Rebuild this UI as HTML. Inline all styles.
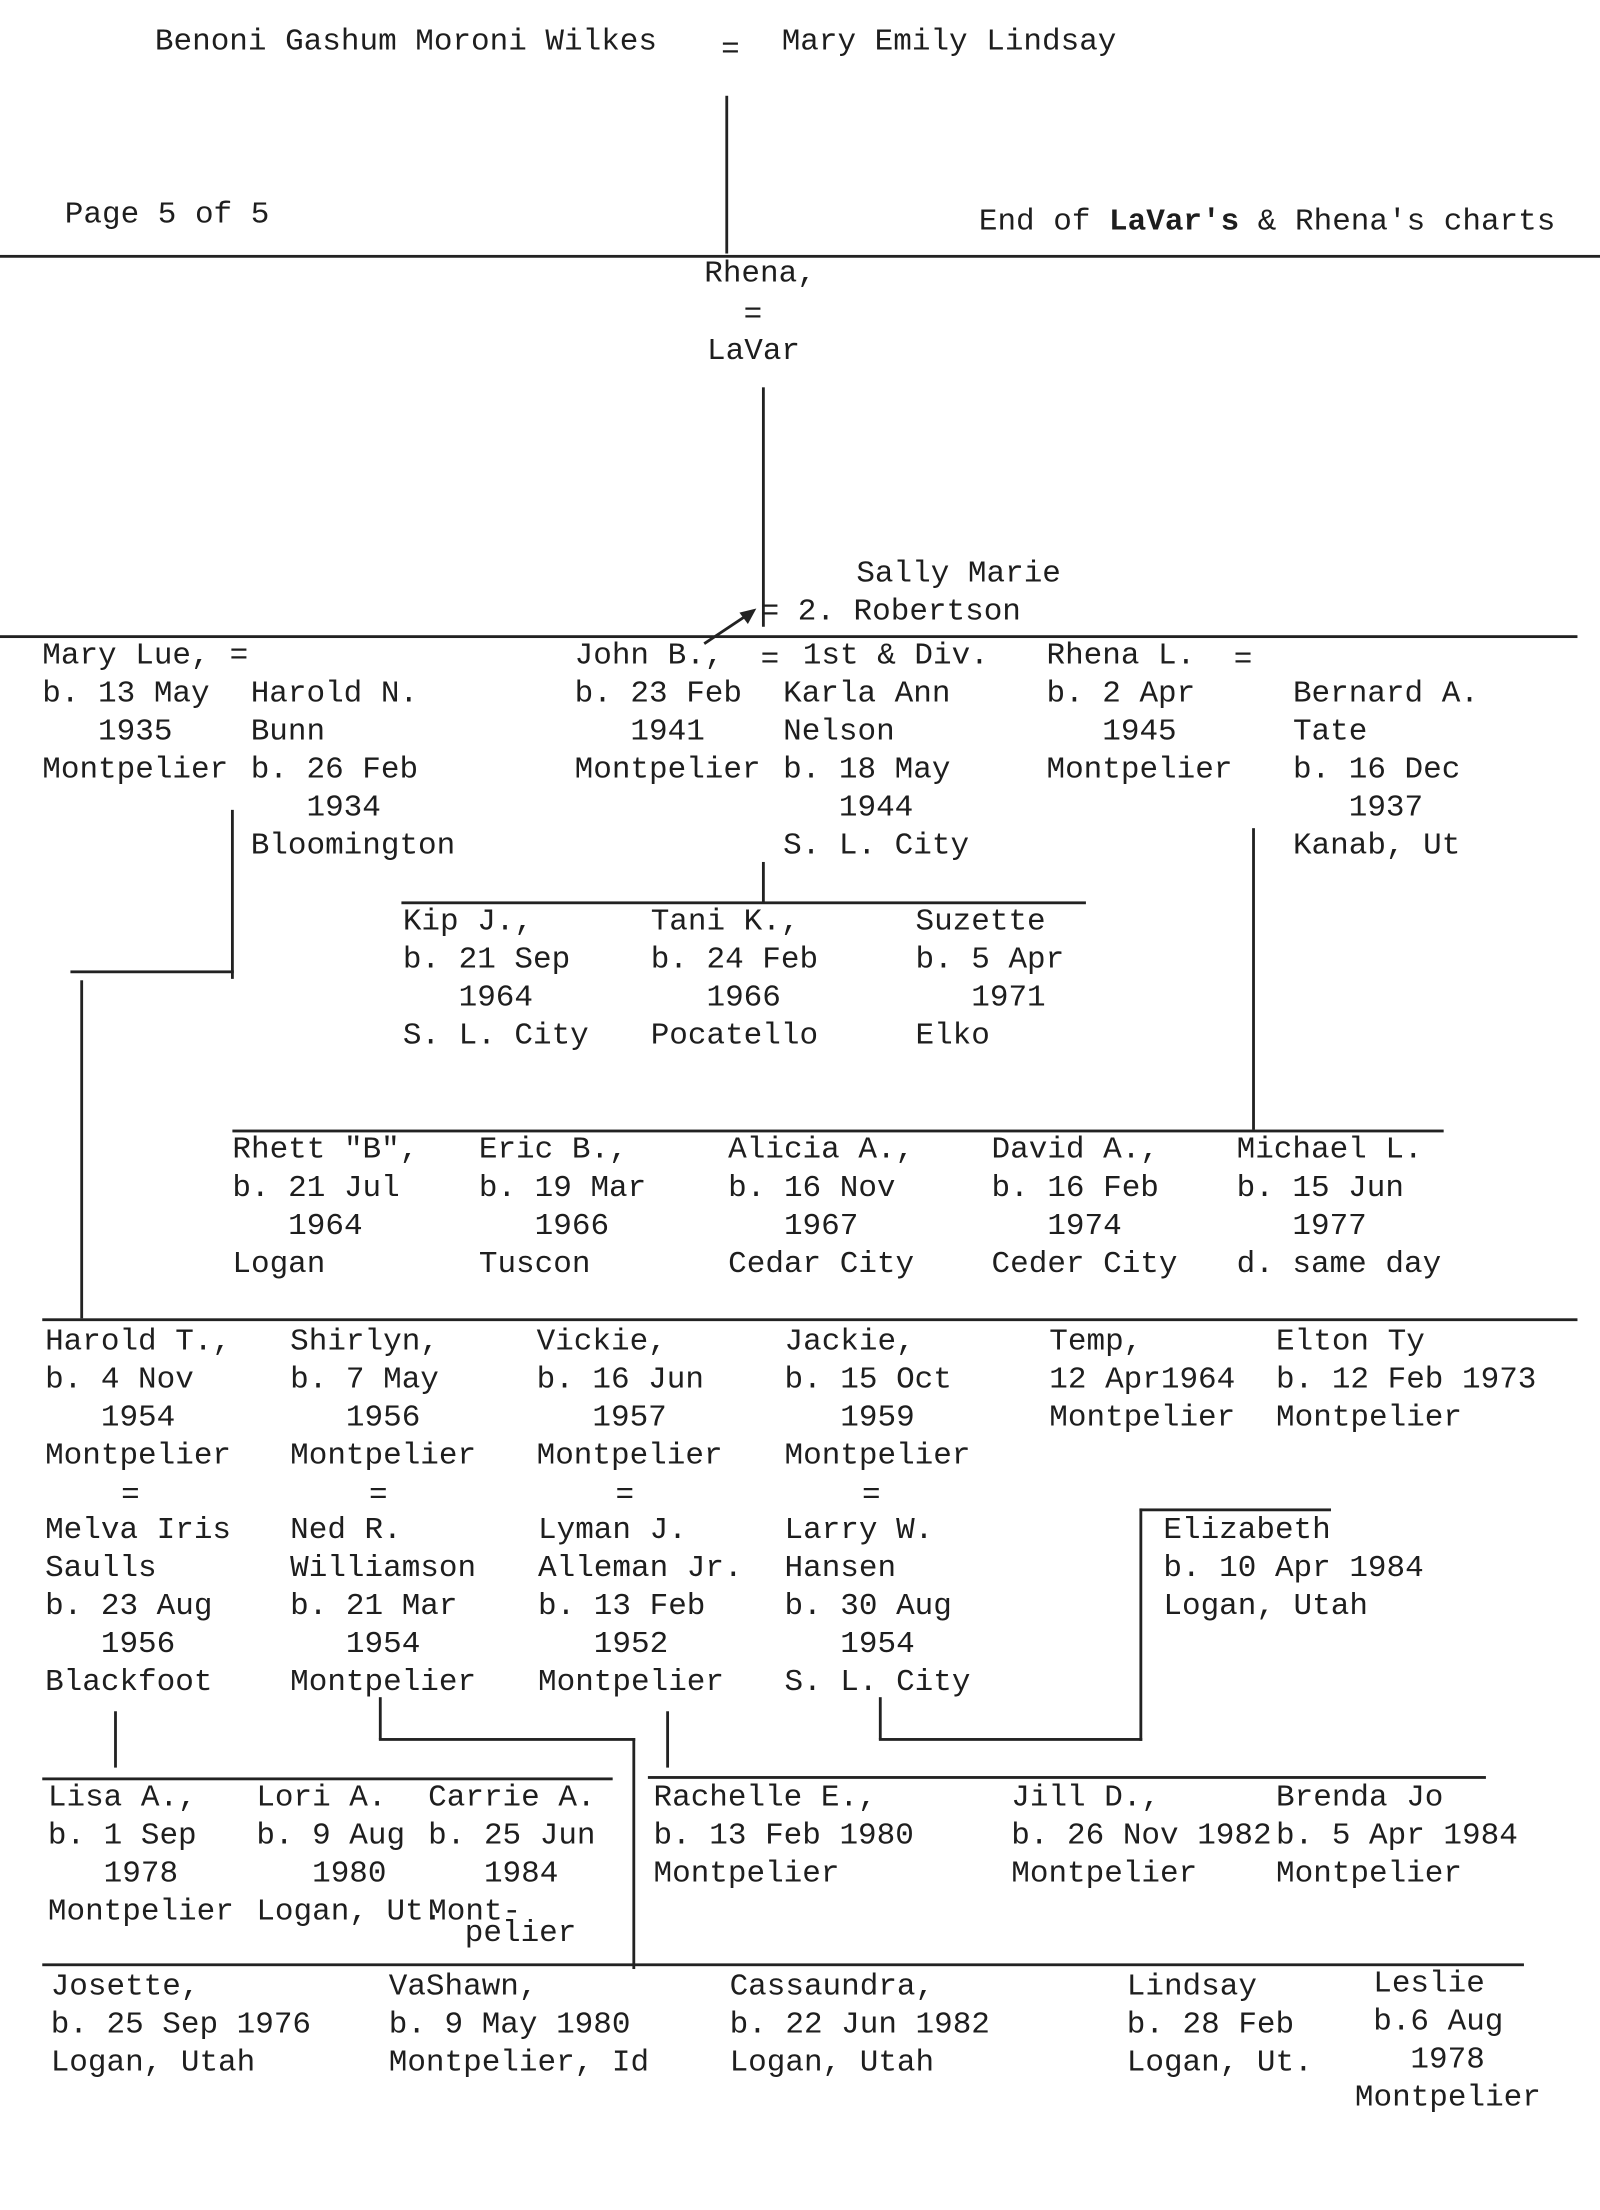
<!DOCTYPE html>
<html><head><meta charset="utf-8"><style>
html,body{margin:0;padding:0;background:#fff;}
body{width:1600px;height:2210px;overflow:hidden;position:relative;}
#c{position:absolute;left:0;top:0;width:1136px;height:1569px;transform:scale(1.40845);transform-origin:0 0;}
.t{position:absolute;font-family:"Liberation Mono",monospace;font-size:22px;line-height:27px;color:#1e1e1e;white-space:pre;margin:0;}
.h{position:absolute;height:2px;background:#222;}
.v{position:absolute;width:2px;background:#222;}
</style></head><body><div id="c">
<pre class="t" style="left:110px;top:16px">Benoni Gashum Moroni Wilkes</pre>
<pre class="t" style="left:512px;top:22px">=</pre>
<pre class="t" style="left:555px;top:16px">Mary Emily Lindsay</pre>
<pre class="t" style="left:46px;top:139px">Page 5 of 5</pre>
<pre class="t" style="left:695px;top:144px">End of <b>LaVar's</b> &amp; Rhena's charts</pre>
<div class="v" style="left:515px;top:68px;height:112px"></div>
<div class="h" style="left:0;top:181px;width:1136px"></div>
<pre class="t" style="left:500px;top:181px">Rhena,</pre>
<pre class="t" style="left:528px;top:210px">=</pre>
<pre class="t" style="left:502px;top:236px">LaVar</pre>
<div class="v" style="left:541px;top:275px;height:170px"></div>
<pre class="t" style="left:608px;top:394px">Sally Marie</pre>
<pre class="t" style="left:540px;top:421px">= 2. Robertson</pre>
<svg style="position:absolute;left:495px;top:425px" width="50" height="40"><line x1="5" y1="32" x2="38" y2="10" stroke="#222" stroke-width="2"/><polygon points="42,7 30,10 36,18" fill="#222"/></svg>
<div class="h" style="left:0;top:451px;width:1120px"></div>
<pre class="t" style="left:30px;top:452px">Mary Lue,
b. 13 May
   1935
Montpelier</pre>
<pre class="t" style="left:163px;top:452px">=</pre>
<pre class="t" style="left:178px;top:479px">Harold N.
Bunn
b. 26 Feb
   1934
Bloomington</pre>
<pre class="t" style="left:408px;top:452px">John B.,
b. 23 Feb
   1941
Montpelier</pre>
<pre class="t" style="left:540px;top:455px">=</pre>
<pre class="t" style="left:570px;top:452px">1st &amp; Div.</pre>
<pre class="t" style="left:556px;top:479px">Karla Ann
Nelson
b. 18 May
   1944
S. L. City</pre>
<pre class="t" style="left:743px;top:452px">Rhena L.
b. 2 Apr
   1945
Montpelier</pre>
<pre class="t" style="left:876px;top:455px">=</pre>
<pre class="t" style="left:918px;top:479px">Bernard A.
Tate
b. 16 Dec
   1937
Kanab, Ut</pre>
<div class="v" style="left:164px;top:575px;height:120px"></div>
<div class="h" style="left:50px;top:689px;width:116px"></div>
<div class="v" style="left:57px;top:696px;height:240px"></div>
<div class="v" style="left:541px;top:612px;height:29px"></div>
<div class="h" style="left:285px;top:640px;width:486px"></div>
<pre class="t" style="left:286px;top:641px">Kip J.,
b. 21 Sep
   1964
S. L. City</pre>
<pre class="t" style="left:462px;top:641px">Tani K.,
b. 24 Feb
   1966
Pocatello</pre>
<pre class="t" style="left:650px;top:641px">Suzette
b. 5 Apr
   1971
Elko</pre>
<div class="v" style="left:889px;top:588px;height:214px"></div>
<div class="h" style="left:165px;top:802px;width:860px"></div>
<pre class="t" style="left:165px;top:803px">Rhett "B",
b. 21 Jul
   1964
Logan</pre>
<pre class="t" style="left:340px;top:803px">Eric B.,
b. 19 Mar
   1966
Tuscon</pre>
<pre class="t" style="left:517px;top:803px">Alicia A.,
b. 16 Nov
   1967
Cedar City</pre>
<pre class="t" style="left:704px;top:803px">David A.,
b. 16 Feb
   1974
Ceder City</pre>
<pre class="t" style="left:878px;top:803px">Michael L.
b. 15 Jun
   1977
d. same day</pre>
<div class="h" style="left:30px;top:936px;width:1090px"></div>
<pre class="t" style="left:32px;top:939px">Harold T.,
b. 4 Nov
   1954
Montpelier</pre>
<pre class="t" style="left:206px;top:939px">Shirlyn,
b. 7 May
   1956
Montpelier</pre>
<pre class="t" style="left:381px;top:939px">Vickie,
b. 16 Jun
   1957
Montpelier</pre>
<pre class="t" style="left:557px;top:939px">Jackie,
b. 15 Oct
   1959
Montpelier</pre>
<pre class="t" style="left:745px;top:939px">Temp,
12 Apr1964
Montpelier</pre>
<pre class="t" style="left:906px;top:939px">Elton Ty
b. 12 Feb 1973
Montpelier</pre>
<pre class="t" style="left:86px;top:1048px">=</pre>
<pre class="t" style="left:262px;top:1048px">=</pre>
<pre class="t" style="left:437px;top:1048px">=</pre>
<pre class="t" style="left:612px;top:1048px">=</pre>
<pre class="t" style="left:32px;top:1073px">Melva Iris
Saulls
b. 23 Aug
   1956
Blackfoot</pre>
<pre class="t" style="left:206px;top:1073px">Ned R.
Williamson
b. 21 Mar
   1954
Montpelier</pre>
<pre class="t" style="left:382px;top:1073px">Lyman J.
Alleman Jr.
b. 13 Feb
   1952
Montpelier</pre>
<pre class="t" style="left:557px;top:1073px">Larry W.
Hansen
b. 30 Aug
   1954
S. L. City</pre>
<pre class="t" style="left:826px;top:1073px">Elizabeth
b. 10 Apr 1984
Logan, Utah</pre>
<div class="h" style="left:809px;top:1071px;width:136px"></div>
<div class="v" style="left:809px;top:1071px;height:165px"></div>
<div class="h" style="left:624px;top:1234px;width:187px"></div>
<div class="v" style="left:624px;top:1205px;height:30px"></div>
<div class="v" style="left:81px;top:1215px;height:40px"></div>
<div class="v" style="left:269px;top:1205px;height:30px"></div>
<div class="h" style="left:269px;top:1234px;width:182px"></div>
<div class="v" style="left:449px;top:1234px;height:164px"></div>
<div class="v" style="left:473px;top:1215px;height:40px"></div>
<div class="h" style="left:30px;top:1262px;width:405px"></div>
<div class="h" style="left:460px;top:1261px;width:595px"></div>
<pre class="t" style="left:34px;top:1263px">Lisa A.,
b. 1 Sep
   1978
Montpelier</pre>
<pre class="t" style="left:182px;top:1263px">Lori A.
b. 9 Aug
   1980
Logan, Ut.</pre>
<pre class="t" style="left:304px;top:1263px">Carrie A.
b. 25 Jun
   1984
Mont-</pre>
<pre class="t" style="left:330px;top:1362px;line-height:22px">pelier</pre>
<pre class="t" style="left:464px;top:1263px">Rachelle E.,
b. 13 Feb 1980
Montpelier</pre>
<pre class="t" style="left:718px;top:1263px">Jill D.,
b. 26 Nov 1982
Montpelier</pre>
<pre class="t" style="left:906px;top:1263px">Brenda Jo
b. 5 Apr 1984
Montpelier</pre>
<div class="h" style="left:30px;top:1394px;width:1052px"></div>
<pre class="t" style="left:36px;top:1397px">Josette,
b. 25 Sep 1976
Logan, Utah</pre>
<pre class="t" style="left:276px;top:1397px">VaShawn,
b. 9 May 1980
Montpelier, Id</pre>
<pre class="t" style="left:518px;top:1397px">Cassaundra,
b. 22 Jun 1982
Logan, Utah</pre>
<pre class="t" style="left:800px;top:1397px">Lindsay
b. 28 Feb
Logan, Ut.</pre>
<pre class="t" style="left:975px;top:1395px">Leslie
b.6 Aug
  1978</pre>
<pre class="t" style="left:962px;top:1476px">Montpelier</pre>
</div></body></html>
